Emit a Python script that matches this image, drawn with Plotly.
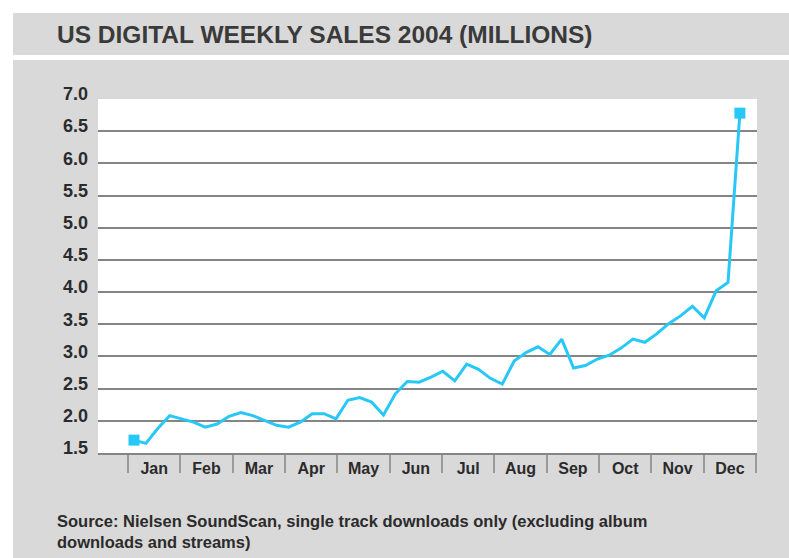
import plotly.graph_objects as go

# Weekly US single-track digital download sales, 2004 (millions)
weeks = list(range(1, 53))
sales = [1.70, 1.65, 1.88, 2.08, 2.03, 1.98, 1.90, 1.95, 2.07, 2.13,
         2.08, 2.01, 1.93, 1.90, 1.98, 2.11, 2.11, 2.03, 2.32, 2.36,
         2.29, 2.09, 2.42, 2.61, 2.60, 2.68, 2.77, 2.62, 2.88, 2.80,
         2.66, 2.57, 2.93, 3.06, 3.15, 3.03, 3.27, 2.82, 2.86, 2.96,
         3.02, 3.13, 3.27, 3.22, 3.35, 3.51, 3.63, 3.78, 3.60, 4.02,
         4.15, 6.78]
months = ["Jan", "Feb", "Mar", "Apr", "May", "Jun",
          "Jul", "Aug", "Sep", "Oct", "Nov", "Dec"]
y_ticks = [1.5, 2.0, 2.5, 3.0, 3.5, 4.0, 4.5, 5.0, 5.5, 6.0, 6.5, 7.0]

TITLE = "US DIGITAL WEEKLY SALES 2004 (MILLIONS)"
SOURCE = ("Source: Nielsen SoundScan, single track downloads only (excluding album"
          "<br>downloads and streams)")

BLUE = "#27c8f8"
PANEL = "#d9d9d9"
GRID = "#858585"
INK = "#2b2b2b"
FONT = "Liberation Sans, Arial, sans-serif"

# month boundaries in week units (each month ~4.4 weeks wide)
WEEKS_PER_MONTH = 4.405
FIRST_BOUNDARY = 0.5
boundaries = [FIRST_BOUNDARY + WEEKS_PER_MONTH * i for i in range(13)]
centers = [FIRST_BOUNDARY + WEEKS_PER_MONTH * (i + 0.5) for i in range(12)]

W, H = 789, 558
L, R, T, B = 98, 32, 99, 105
PW, PH = W - L - R, H - T - B


def px_x(px):
    return (px - L) / PW


def px_y(py):
    return (H - B - py) / PH


fig = go.Figure()
fig.add_trace(go.Scatter(
    x=weeks, y=sales, mode="lines",
    line=dict(color=BLUE, width=3),
    hoverinfo="skip", showlegend=False,
))
fig.add_trace(go.Scatter(
    x=[weeks[0], weeks[-1]], y=[sales[0], sales[-1]], mode="markers",
    marker=dict(symbol="square", size=11, color=BLUE),
    hoverinfo="skip", showlegend=False,
))

# white page strips around the grey panels
white_rects = [
    (0, 0, W, 13),      # above the title band
    (0, 0, 13, H),      # left margin
    (0, 55, W, 60),     # gap between title band and chart panel
]
for x0, y0, x1, y1 in white_rects:
    fig.add_shape(type="rect", xref="paper", yref="paper",
                  x0=px_x(x0), x1=px_x(x1), y0=px_y(y0), y1=px_y(y1),
                  fillcolor="white", line=dict(width=0), layer="below")

fig.add_annotation(
    text=TITLE, xref="paper", yref="paper",
    x=px_x(55), y=px_y(35), xanchor="left", yanchor="middle",
    showarrow=False,
    font=dict(family=FONT, size=24.5, color="#3a3a3a", weight="bold"),
)
fig.add_annotation(
    text=SOURCE, xref="paper", yref="paper", align="left",
    x=px_x(55), y=px_y(531), xanchor="left", yanchor="middle",
    showarrow=False,
    font=dict(family=FONT, size=16.5, color=INK, weight="bold"),
)

fig.update_layout(
    width=W, height=H,
    margin=dict(l=L, r=R, t=T, b=B, pad=0),
    paper_bgcolor=PANEL, plot_bgcolor="white",
    showlegend=False,
    xaxis=dict(
        range=[-2.03, 53.44],
        tickmode="array", tickvals=centers, ticktext=months,
        ticks="", showgrid=False, zeroline=False,
        showline=True, linecolor=GRID, linewidth=1.5,
        ticklabelstandoff=0,
        tickfont=dict(family=FONT, size=16, color=INK, weight="bold"),
        minor=dict(tickmode="array", tickvals=boundaries, ticks="outside",
                   ticklen=18, tickwidth=1.5, tickcolor="#9a9a9a",
                   showgrid=False),
        fixedrange=True,
    ),
    yaxis=dict(
        range=[1.5, 7.0],
        tickmode="array", tickvals=y_ticks, tickformat=".1f",
        ticks="", showgrid=True, gridcolor=GRID, gridwidth=1.5,
        zeroline=False, showline=False,
        ticklabelstandoff=9, ticklabelshift=-5,
        tickfont=dict(family=FONT, size=18, color=INK, weight="bold"),
        fixedrange=True,
    ),
)

fig.write_html("out.html")
